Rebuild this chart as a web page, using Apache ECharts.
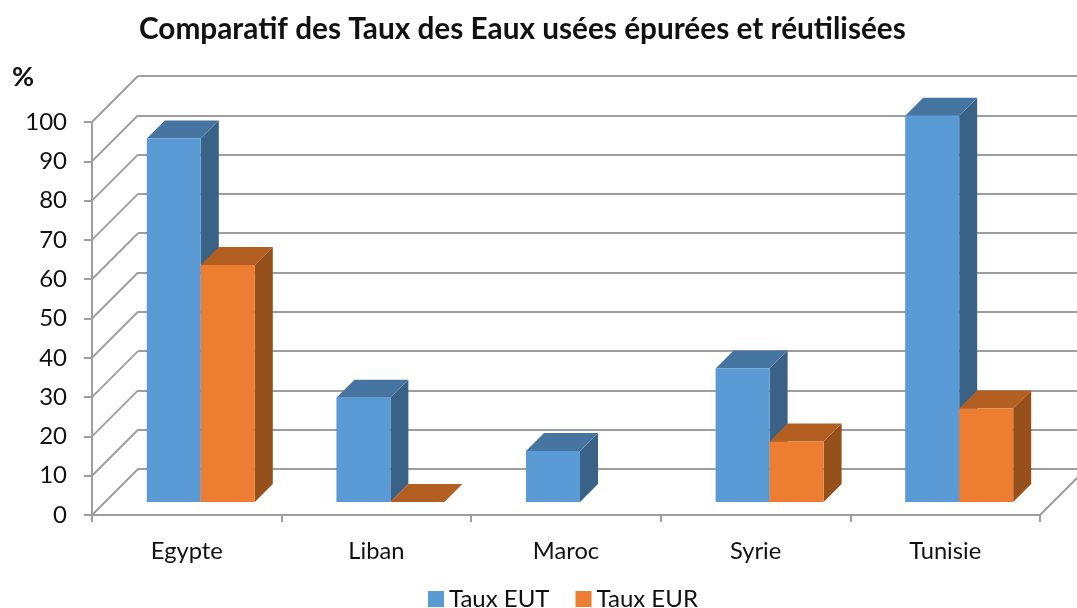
<!DOCTYPE html>
<html>
<head>
<meta charset="utf-8">
<title>Comparatif des Taux des Eaux usées épurées et réutilisées</title>
<script src="https://cdn.jsdelivr.net/npm/echarts@6/dist/echarts.min.js"></script>
<style>
  html, body { margin: 0; padding: 0; background: #fff; }
  #chart { width: 1077px; height: 608px; }
</style>
</head>
<body>
<div id="chart"></div>
<script>
const categories = ['Egypte', 'Liban', 'Maroc', 'Syrie', 'Tunisie'];
const tauxEUT = [92.5, 26.5, 13, 34, 98.3];
const tauxEUR = [60.3, 0, null, 15.4, 23.8];
const yTicks = [0, 10, 20, 30, 40, 50, 60, 70, 80, 90, 100];

const FONT = 'Lato';
const WALL_DEPTH = 46;   // fake 3D: back wall offset in px
const BAR_INSET_X = 14;  // bars stand behind the front plane
const BAR_INSET_Y = 13;
const BAR_DEPTH = 18;
const BAR_WIDTH = 54;
const LINE_COLOR = '#9e9e9e';

const chart = echarts.init(document.getElementById('chart'), null, { renderer: 'canvas' });

function barRenderer(seriesIdx, front, top, side) {
  return function (params, api) {
    const val = api.value(1);
    if (val == null || isNaN(val)) return;
    const base = api.coord([api.value(0), 0]);
    const head = api.coord([api.value(0), val]);
    const x0 = base[0] + BAR_INSET_X - BAR_WIDTH + seriesIdx * BAR_WIDTH;
    const x1 = x0 + BAR_WIDTH;
    const y0 = base[1] - BAR_INSET_Y;
    const y1 = head[1] - BAR_INSET_Y;
    const d = BAR_DEPTH;
    return {
      type: 'group',
      children: [
        { type: 'polygon', shape: { points: [[x1, y1], [x1 + d, y1 - d], [x1 + d, y0 - d], [x1, y0]] }, style: { fill: side } },
        { type: 'polygon', shape: { points: [[x0, y1], [x0 + d, y1 - d], [x1 + d, y1 - d], [x1, y1]] }, style: { fill: top } },
        { type: 'rect', shape: { x: x0, y: y1, width: BAR_WIDTH, height: y0 - y1 }, style: { fill: front } }
      ]
    };
  };
}

// diagonals joining the front axis to the back wall
function renderDiagonal(params, api) {
  const p = api.coord([0, api.value(0)]);
  const x = p[0] - api.size([1, 0])[0] / 2;
  return {
    type: 'line',
    shape: { x1: x, y1: p[1], x2: x + WALL_DEPTH, y2: p[1] - WALL_DEPTH },
    style: { stroke: LINE_COLOR, lineWidth: 2 }
  };
}

// right edge of the floor, runs off the page
function renderFloorEdge(params, api) {
  const p = api.coord([categories.length - 1, 0]);
  const x = p[0] + api.size([1, 0])[0] / 2;
  return {
    type: 'line',
    shape: { x1: x, y1: p[1], x2: x + WALL_DEPTH, y2: p[1] - WALL_DEPTH },
    style: { stroke: LINE_COLOR, lineWidth: 2 }
  };
}

chart.setOption({
  animation: false,
  backgroundColor: '#ffffff',
  title: [
    {
      text: 'Comparatif des Taux des Eaux usées épurées et réutilisées',
      left: 134,
      top: 9,
      textStyle: { fontFamily: FONT, fontWeight: 'bold', fontSize: 29.75, color: '#111' }
    },
    {
      text: '%',
      left: 7,
      top: 59,
      textStyle: { fontFamily: FONT, fontWeight: 'bold', fontSize: 27, color: '#111' }
    }
  ],
  legend: {
    data: ['Taux EUT', 'Taux EUR'],
    left: 423,
    top: 582,
    itemWidth: 16,
    itemHeight: 16,
    itemGap: 26,
    icon: 'rect',
    textStyle: { fontFamily: FONT, fontSize: 24, color: '#111' }
  },
  grid: [
    { left: 92, top: 122, width: 948, height: 393, containLabel: false },
    { left: 138, top: 76, width: 948, height: 393, containLabel: false }
  ],
  xAxis: [
    {
      type: 'category',
      gridIndex: 0,
      data: categories,
      axisLine: { lineStyle: { color: LINE_COLOR, width: 2 } },
      axisTick: { show: true, alignWithLabel: false, length: 7, lineStyle: { color: LINE_COLOR, width: 2 } },
      axisLabel: { margin: 24, fontFamily: FONT, fontSize: 23.7, color: '#111' }
    },
    { type: 'category', gridIndex: 1, data: categories, show: false }
  ],
  yAxis: [
    {
      type: 'value',
      gridIndex: 0,
      min: 0,
      max: 100,
      interval: 10,
      axisLine: { show: true, lineStyle: { color: LINE_COLOR, width: 2 } },
      axisTick: { show: true, length: 8, lineStyle: { color: LINE_COLOR, width: 2 } },
      axisLabel: { margin: 25, padding: [6, 0, 0, 0], fontFamily: FONT, fontSize: 24, color: '#111' },
      splitLine: { show: false }
    },
    {
      type: 'value',
      gridIndex: 1,
      min: 0,
      max: 100,
      interval: 10,
      axisLine: { show: false },
      axisTick: { show: false },
      axisLabel: { show: false },
      splitLine: { show: true, lineStyle: { color: LINE_COLOR, width: 2 } }
    }
  ],
  series: [
    {
      type: 'custom',
      name: 'diagonals',
      xAxisIndex: 0,
      yAxisIndex: 0,
      clip: false,
      silent: true,
      renderItem: renderDiagonal,
      encode: { y: 0 },
      data: yTicks
    },
    {
      type: 'custom',
      name: 'floor edge',
      xAxisIndex: 0,
      yAxisIndex: 0,
      clip: false,
      silent: true,
      renderItem: renderFloorEdge,
      encode: { y: 0 },
      data: [0]
    },
    {
      type: 'custom',
      name: 'Taux EUT',
      xAxisIndex: 0,
      yAxisIndex: 0,
      clip: false,
      itemStyle: { color: '#5b9bd5' },
      renderItem: barRenderer(0, '#5b9bd5', '#4675a2', '#3a6287'),
      encode: { x: 0, y: 1 },
      data: categories.map((c, i) => [i, tauxEUT[i]])
    },
    {
      type: 'custom',
      name: 'Taux EUR',
      xAxisIndex: 0,
      yAxisIndex: 0,
      clip: false,
      itemStyle: { color: '#ed7d31' },
      renderItem: barRenderer(1, '#ed7d31', '#b35f22', '#95501c'),
      encode: { x: 0, y: 1 },
      data: categories.map((c, i) => [i, tauxEUR[i]])
    }
  ]
});
</script>
</body>
</html>
